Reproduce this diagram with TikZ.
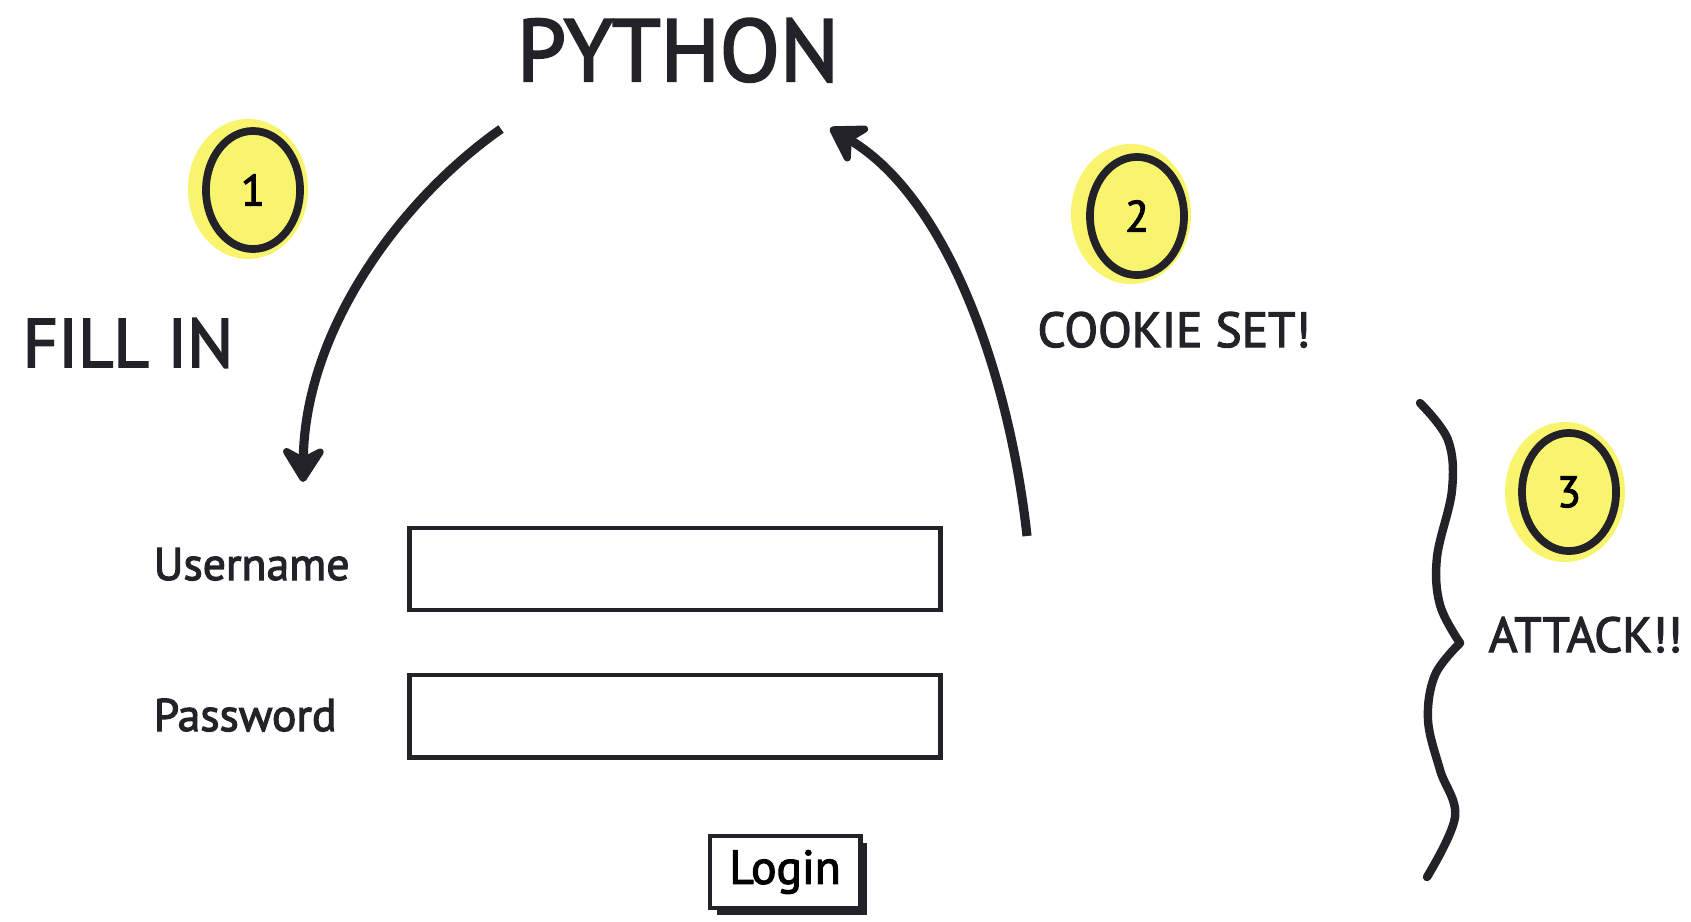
\documentclass[tikz,border=0pt]{standalone}
\usepackage{fontspec}
\setmainfont{PT Sans}
\newfontfamily\inkfont[FakeBold=2.5]{PT Sans}
\usepackage{tikz}
\usetikzlibrary{shapes.geometric, arrows.meta, positioning, shadows}
\usepackage{xcolor}
\definecolor{sketchink}{RGB}{34, 34, 40}
\definecolor{sketchyellow}{RGB}{248, 244, 110}
\tikzset{
  headline/.style={
    font=\inkfont\fontsize{25}{30}\selectfont, text=sketchink,
    inner sep=0pt, anchor=base
  },
  shout/.style={
    font=\inkfont\fontsize{14}{17}\selectfont, text=sketchink,
    inner sep=0pt, anchor=base
  },
  lbl/.style={
    font=\inkfont\fontsize{13}{16}\selectfont, text=sketchink,
    inner sep=0pt, anchor=base west
  },
  field/.style={
    rectangle, draw=sketchink, fill=white, line width=1.4pt,
    minimum width=5.3cm, minimum height=0.82cm, inner sep=0pt
  },
  btn/.style={
    rectangle, draw=sketchink, fill=white, line width=1.4pt,
    minimum width=1.5cm, minimum height=0.72cm, inner sep=0pt,
    font=\inkfont\fontsize{13.5}{16}\selectfont,
    drop shadow={shadow xshift=0.7mm, shadow yshift=-0.7mm,
      fill=sketchink, opacity=1}
  },
  halo/.style={
    ellipse, fill=sketchyellow, inner sep=0pt,
    minimum width=1.2cm, minimum height=1.4cm
  },
  badge/.style={
    ellipse, draw=sketchink, line width=2.2pt, inner sep=0pt,
    minimum width=0.94cm, minimum height=1.18cm,
    font=\inkfont\fontsize{12.5}{14}\selectfont
  },
  arr/.style={-{Stealth[length=12pt, width=15pt, round]}, line width=2.6pt, color=sketchink},
  wavebrace/.style={line width=2.4pt, color=sketchink, line cap=round, line join=round},
}
\begin{document}
\begin{tikzpicture}[x=0.01cm, y=-0.01cm, node distance=0.6cm]
  \useasboundingbox (0,0) rectangle (1691,921);
  \node[headline] (py) at (678,81) {PYTHON};
  \node[shout, font=\inkfont\fontsize{19.5}{23}\selectfont] (fill) at (128,367) {FILL IN};
  \node[shout] (cookie) at (1174,347) {COOKIE SET!};
  \node[shout, anchor=base west] (attack) at (1488,652) {ATTACK!!};
  \node[halo] (halo1) at (248,189) {};
  \node[badge] (badge1) at (253,190) {1};
  \node[halo] (halo2) at (1131,214) {};
  \node[badge] (badge2) at (1137,216) {2};
  \node[halo] (halo3) at (1565,492) {};
  \node[badge] (badge3) at (1569,492) {3};
  \node[field] (ubox) at (675,569) {};
  \node[field, below=of ubox] (pbox) {};
  \node[lbl] (user) at (153,580) {Username};
  \node[lbl] (pwd) at (153,731) {Password};
  \node[btn] (login) at (785,872) {Login};
  \coordinate (pyout) at (501,129);
  \coordinate (formin) at (303,482);
  \coordinate (formout) at (1027,536);
  \coordinate (pyin) at (830,128);
  \draw[arr] (pyout) .. controls (400,200) and (305,330) .. (formin);
  \draw[arr] (formout) .. controls (1010,380) and (950,200) .. (pyin);
  \draw[wavebrace] plot[smooth, tension=0.6] coordinates
    {(1420,403) (1448,440) (1452,490) (1437,557) (1440,605) (1460,643)};
  \draw[wavebrace] plot[smooth, tension=0.6] coordinates
    {(1460,643) (1435,675) (1428,720) (1440,770) (1455,817) (1427,877)};
\end{tikzpicture}
\end{document}
